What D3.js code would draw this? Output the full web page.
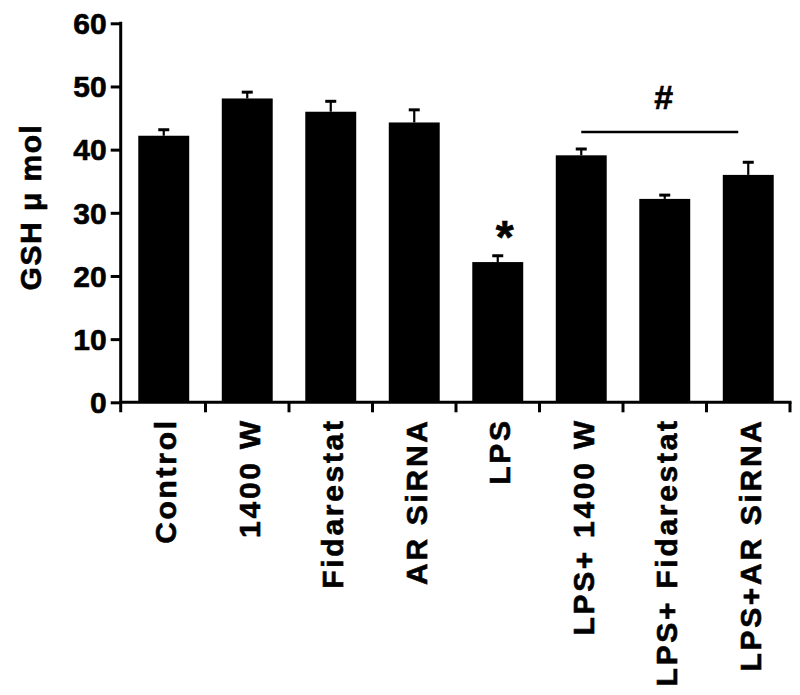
<!DOCTYPE html>
<html>
<head>
<meta charset="utf-8">
<script src="https://cdn.jsdelivr.net/npm/d3@7"></script>
<style>
    body { margin: 0; background: #fff; }
    text { font-family: 'Liberation Sans', Arial, Helvetica, sans-serif; font-weight: bold; fill: #000; stroke: #000; stroke-width: 0.6px; }
</style>
</head>
<body>
<svg id="chart" width="800" height="695"></svg>
<script>
// data
var groups = ['Control', '1400 W', 'Fidarestat', 'AR SiRNA', 'LPS', 'LPS+ 1400 W', 'LPS+ Fidarestat', 'LPS+AR SiRNA'];
var gshMean = [42.2, 48.1, 46.0, 44.3, 22.2, 39.1, 32.2, 36.0];
var gshErr = [0.95, 1.0, 1.65, 2.0, 1.0, 1.0, 0.6, 2.0];
var yTicks = [0, 10, 20, 30, 40, 50, 60];

// significance marks
var starGroup = 'LPS';
var starValue = 28.2;
var hashFrom = 'LPS+ 1400 W';
var hashTo = 'LPS+AR SiRNA';
var hashLineValue = 42.8;
var hashTextValue = 48.3;

var svg = d3.select('#chart');

var x = d3.scaleBand()
    .domain(groups)
    .range([122, 790])
    .paddingInner(0.39)
    .paddingOuter(0.195);

var y = d3.scaleLinear()
    .domain([0, 60])
    .range([402.3, 23.3]);

// bars
svg.selectAll('rect.bar')
    .data(groups)
    .enter()
    .append('rect')
    .attr('class', 'bar')
    .attr('x', function (d) { return x(d); })
    .attr('y', function (d, i) { return y(gshMean[i]); })
    .attr('width', x.bandwidth())
    .attr('height', function (d, i) { return y(0) - y(gshMean[i]); })
    .attr('fill', '#000');

// error bars (upper only)
var err = svg.selectAll('g.err')
    .data(groups)
    .enter()
    .append('g')
    .attr('class', 'err');

err.append('line')
    .attr('x1', function (d) { return x(d) + x.bandwidth() / 2; })
    .attr('x2', function (d) { return x(d) + x.bandwidth() / 2; })
    .attr('y1', function (d, i) { return y(gshMean[i]); })
    .attr('y2', function (d, i) { return y(gshMean[i] + gshErr[i]); })
    .attr('stroke', '#000')
    .attr('stroke-width', 2.2);

err.append('line')
    .attr('x1', function (d) { return x(d) + x.bandwidth() / 2 - 5.5; })
    .attr('x2', function (d) { return x(d) + x.bandwidth() / 2 + 5.5; })
    .attr('y1', function (d, i) { return y(gshMean[i] + gshErr[i]); })
    .attr('y2', function (d, i) { return y(gshMean[i] + gshErr[i]); })
    .attr('stroke', '#000')
    .attr('stroke-width', 3);

// y axis
var yAxis = d3.axisLeft(y)
    .tickValues(yTicks)
    .tickSize(10)
    .tickPadding(4);

var gy = svg.append('g')
    .attr('transform', 'translate(120.7,0)')
    .call(yAxis);
gy.select('.domain').remove();
gy.append('line')
    .attr('x1', 0).attr('x2', 0)
    .attr('y1', y(60) - 1.5).attr('y2', y(0) + 10)
    .attr('stroke', '#000')
    .attr('stroke-width', 3);
gy.selectAll('.tick line').attr('stroke', '#000').attr('stroke-width', 3);
gy.selectAll('.tick text')
    .style('font-size', '30px')
    .attr('dy', '0.34em');

// x axis, ticks at band boundaries
var boundaries = groups.map(function (d) { return x(d) - x.step() * x.paddingInner() / 2; });
boundaries.push(x.range()[1]);

svg.append('line')
    .attr('x1', 119.2).attr('x2', x.range()[1] + 1.5)
    .attr('y1', y(0)).attr('y2', y(0))
    .attr('stroke', '#000')
    .attr('stroke-width', 3);

svg.selectAll('line.xtick')
    .data(boundaries.slice(1))
    .enter()
    .append('line')
    .attr('class', 'xtick')
    .attr('x1', function (d) { return d; })
    .attr('x2', function (d) { return d; })
    .attr('y1', y(0))
    .attr('y2', y(0) + 10)
    .attr('stroke', '#000')
    .attr('stroke-width', 3);

svg.selectAll('text.xlab')
    .data(groups)
    .enter()
    .append('text')
    .attr('class', 'xlab')
    .attr('transform', function (d) {
        return 'translate(' + (x(d) + x.bandwidth() / 2 + 2) + ',' + (y(0) + 16) + ') rotate(-90)';
    })
    .attr('text-anchor', 'end')
    .attr('dy', '0.35em')
    .style('font-size', '30px')
    .style('letter-spacing', '2.7px')
    .text(function (d) { return d; });

// y axis title
svg.append('text')
    .attr('transform', 'translate(30,' + 207 + ') rotate(-90)')
    .attr('text-anchor', 'middle')
    .attr('dy', '0.35em')
    .style('font-size', '30px')
    .style('letter-spacing', '1.5px')
    .text('GSH \u03bc mol');

// significance marks
svg.append('text')
    .attr('x', x(starGroup) + x.bandwidth() / 2 + 7)
    .attr('y', y(starValue))
    .attr('text-anchor', 'middle')
    .attr('dy', '0.62em')
    .style('font-size', '46px')
    .text('*');

svg.append('line')
    .attr('x1', x(hashFrom) + x.bandwidth() / 2)
    .attr('x2', x(hashTo) + x.bandwidth() / 2 - 10)
    .attr('y1', y(hashLineValue))
    .attr('y2', y(hashLineValue))
    .attr('stroke', '#000')
    .attr('stroke-width', 2.5);

svg.append('text')
    .attr('x', (x(hashFrom) + x(hashTo) + x.bandwidth()) / 2 - 1)
    .attr('y', y(hashTextValue))
    .attr('text-anchor', 'middle')
    .attr('dy', '0.36em')
    .style('font-size', '34px')
    .text('#');
</script>
</body>
</html>
